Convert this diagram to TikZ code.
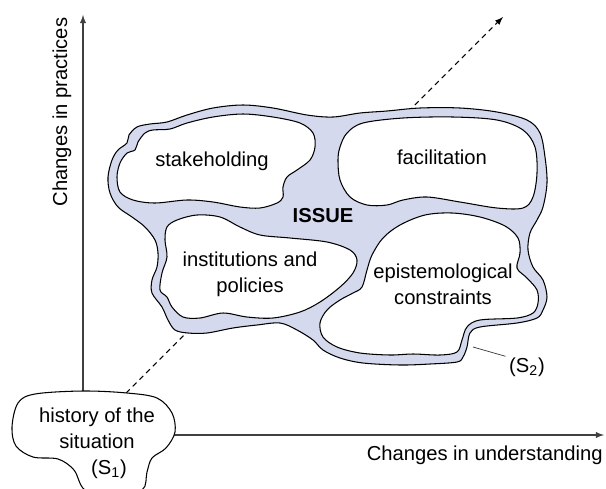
\documentclass[tikz,border=0pt]{standalone}
\usepackage{fontspec}
\setmainfont{Liberation Sans}
\usetikzlibrary{arrows, calc, positioning}
\definecolor{issueFill}{RGB}{213,217,237}
\tikzset{
    blobLine/.style={draw=black, line width=0.6pt},
    issueBlob/.style={blobLine, fill=issueFill},
    holeBlob/.style={blobLine, fill=white},
    axisEdge/.style={->, >=latex, line width=0.6pt, draw=black!75},
    dashEdge/.style={->, >=latex, line width=0.6pt, dash pattern=on 3pt off 2.4pt},
    leadEdge/.style={line width=0.4pt, draw=black!80},
    lbl/.style={font=\fontsize{11.5}{14.7}\selectfont, align=center, inner sep=0pt},
}
\newcommand{\drawBlob}[2][holeBlob]{
    \draw[#1] plot[smooth cycle, tension=0.55] coordinates {#2};
}

\begin{document}
\begin{tikzpicture}[x=0.02cm, y=-0.02cm]
        \useasboundingbox (0,0) rectangle (606,488);

        \coordinate (yTop) at (83,15);
        \coordinate (yFoot) at (83,392);
        \coordinate (xEnd) at (604,435);
        \coordinate (xFoot) at (174,435);
        \coordinate (dTip) at (503,17);
        \coordinate (dFoot) at (126,393);
        \coordinate (s2Foot) at (473,347);

        \draw[axisEdge] (yFoot) -- (yTop);
        \draw[axisEdge] (xFoot) -- (xEnd);
        \draw[dashEdge] (dFoot) -- (dTip);

        \drawBlob[issueBlob]{(112,160) (118,150) (127,143) (129,135) (137,127) (150,124) (167,122) (187,115) (213,108) (243,105) (273,108) (307,115) (333,117) (360,113) (387,111) (420,108) (460,108) (497,112) (527,120) (540,133) (545,157) (547,183) (543,207) (537,220) (530,233) (528,250) (533,267) (543,280) (547,297) (543,310) (537,318) (517,323) (480,327) (470,333) (467,347) (463,357) (457,362) (430,364) (400,365) (363,363) (340,358) (323,350) (313,340) (297,330) (280,323) (257,325) (233,328) (207,333) (188,333) (175,330) (168,320) (162,307) (152,293) (152,280) (157,267) (158,253) (155,240) (145,227) (132,217) (118,207) (110,193) (108,177)}
        \drawBlob{(120,163) (127,153) (135,150) (138,142) (145,133) (153,130) (170,129) (187,123) (213,117) (243,114) (273,117) (300,123) (313,133) (315,147) (310,160) (297,170) (287,177) (283,187) (283,197) (277,203) (260,208) (240,207) (213,202) (187,200) (155,203) (133,200) (120,192) (117,177)}
        \drawBlob{(340,147) (347,133) (363,123) (403,118) (453,117) (497,120) (523,130) (535,147) (537,173) (533,197) (523,208) (497,208) (460,202) (427,197) (403,200) (387,205) (367,205) (350,197) (340,180) (338,160)}
        \drawBlob{(165,240) (167,227) (177,220) (197,215) (220,217) (240,227) (260,235) (290,238) (327,242) (350,250) (357,260) (353,273) (340,287) (320,302) (300,312) (273,318) (247,317) (223,313) (200,318) (183,317) (172,307) (167,297) (160,290) (162,273) (167,257)}
        \drawBlob{(372,255) (383,238) (400,225) (425,215) (452,213) (480,217) (505,226) (518,238) (520,253) (517,268) (527,278) (537,290) (538,303) (533,313) (517,318) (480,320) (467,327) (462,340) (457,352) (440,355) (413,354) (390,355) (360,353) (337,347) (323,337) (320,323) (327,310) (340,300) (353,293) (362,287) (367,270)}
        \drawBlob{(12,427) (18,403) (35,394) (83,391) (127,393) (157,398) (172,413) (175,432) (166,448) (152,458) (147,472) (142,490) (112,494) (85,490) (74,470) (58,459) (33,457) (16,446)}

        \node[lbl] (stake) at (212,161) {stakeholding};
        \node[lbl] (facil) at (442,157) {facilitation};
        \node[lbl, font=\fontsize{11.5}{14.7}\selectfont\bfseries] (issue) at (323,216) {ISSUE};
        \node[lbl] (instit) at (250,274) {institutions and\\policies};
        \node[lbl] (episte) at (443,284) {epistemological\\constraints};
        \node[lbl] (hist) at (97,443) {history of the\\situation\\\hspace*{0.48cm}(S\textsubscript{1})};
        \node[lbl] (s2) at (527,367) {(S\textsubscript{2})};
        \node[lbl, rotate=90] (yLab) at (62,112) {Changes in practices};
        \node[lbl, anchor=east] (xLab) at (603,455) {Changes in understanding};

        \draw[leadEdge, shorten >=2pt] (s2Foot) -- (s2.north west);

    \end{tikzpicture}
\end{document}
